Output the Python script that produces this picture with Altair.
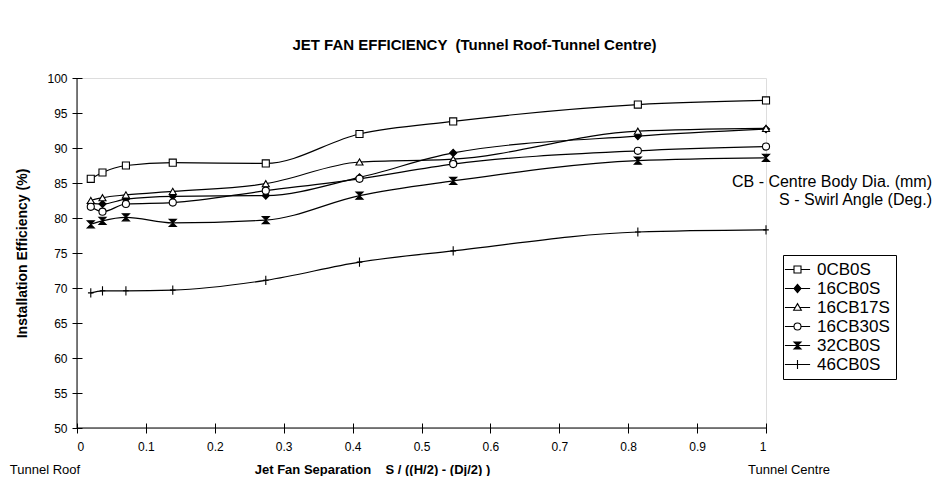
import altair as alt
import pandas as pd

# ---------------- data ----------------
x_vals = [0.02, 0.037, 0.071, 0.139, 0.274, 0.41, 0.546, 0.814, 1.0]
series_names = ["0CB0S", "16CB0S", "16CB17S", "16CB30S", "32CB0S", "46CB0S"]
v_0CB0S = [85.6, 86.5, 87.5, 87.9, 87.8, 92.0, 93.8, 96.2, 96.8]
v_16CB0S = [82.1, 82.0, 82.7, 83.1, 83.2, 85.8, 89.3, 91.7, 92.7]
v_16CB17S = [82.5, 82.9, 83.3, 83.8, 84.9, 88.0, 88.4, 92.4, 92.8]
v_16CB30S = [81.6, 80.9, 82.0, 82.2, 83.9, 85.6, 87.7, 89.6, 90.2]
v_32CB0S = [79.1, 79.6, 80.1, 79.3, 79.7, 83.2, 85.3, 88.2, 88.6]
v_46CB0S = [69.3, 69.6, 69.6, 69.7, 71.1, 73.7, 75.3, 78.0, 78.3]

y_ticks = [50, 55, 60, 65, 70, 75, 80, 85, 90, 95, 100]
x_ticks = [0, 0.1, 0.2, 0.3, 0.4, 0.5, 0.6, 0.7, 0.8, 0.9, 1.0]

title_text = "JET FAN EFFICIENCY \u00a0(Tunnel Roof-Tunnel Centre)"
x_title = "Jet Fan Separation\u00a0\u00a0\u00a0\u00a0S / ((H/2) - (Dj/2) )"
y_title = "Installation Efficiency (%)"
note_lines = ["CB - Centre Body Dia. (mm)", "S - Swirl Angle (Deg.)"]
end_labels = ["Tunnel Roof", "Tunnel Centre"]

all_vals = [v_0CB0S, v_16CB0S, v_16CB17S, v_16CB30S, v_32CB0S, v_46CB0S]
rows = []
for name, vals in zip(series_names, all_vals):
    for xv, yv in zip(x_vals, vals):
        rows.append({"series": name, "x": xv, "y": yv})
df = pd.DataFrame(rows)

# ---------------- styling ----------------
FONT = "Liberation Sans"
W, H = 689, 350

plot_shapes = [
    "square",
    "diamond",
    "triangle-up",
    "circle",
    "M-1,-1L1,-1L-1,1L1,1Z",
    "M0,-1.3L0,1.3M-0.8,0L0.8,0",
]
legend_shapes = [
    "M-1.8,0L-0.5,0M0.5,0L1.8,0M-0.5,-0.5L0.5,-0.5L0.5,0.5L-0.5,0.5Z",
    "M-1.8,0L1.8,0M0,-0.6L0.5,0L0,0.6L-0.5,0Z",
    "M-1.8,0L-0.35,0M0.35,0L1.8,0M0,-0.55L0.55,0.4L-0.55,0.4Z",
    "M-1.8,0L-0.5,0M0.5,0L1.8,0M0.5,0A0.5,0.5 0 1,1 -0.5,0A0.5,0.5 0 1,1 0.5,0Z",
    "M-1.8,0L1.8,0M-0.5,-0.5L0.5,-0.5L-0.5,0.5L0.5,0.5Z",
    "M-1.8,0L1.8,0M0,-0.65L0,0.65",
]
fills = ["white", "black", "white", "white", "black", "black"]
strokes = ["black"] * 6

x_enc = alt.X(
    "x:Q",
    scale=alt.Scale(domain=[0, 1], nice=False, zero=False),
    axis=alt.Axis(
        values=x_ticks, format=".1~f", offset=-5, tickSize=10, domain=False,
        grid=False, labelPadding=8, labelFontSize=12, labelFont=FONT,
        labelColor="black", tickColor="black", labelOverlap=False,
        title=x_title, titleFont=FONT, titleFontSize=13, titleFontWeight="bold",
        titleColor="black", titleX=295, titleY=50, titleBaseline="alphabetic",
        titleAlign="center",
    ),
)
y_enc = alt.Y(
    "y:Q",
    scale=alt.Scale(domain=[50, 100], nice=False, zero=False),
    axis=alt.Axis(
        values=y_ticks, format="d", offset=-5, tickSize=10, domain=False,
        grid=False, labelPadding=5, labelFontSize=12, labelFont=FONT,
        labelColor="black", tickColor="black", labelOverlap=False,
        title=y_title, titleFont=FONT, titleFontSize=14, titleFontWeight="bold",
        titleColor="black", titleX=-60, titleY=H / 2, titleAngle=270,
        titleBaseline="middle", titleAlign="center",
    ),
)

lines = alt.Chart(df).mark_line(
    color="black", strokeWidth=1.2, interpolate="monotone"
).encode(x=x_enc, y=y_enc, detail="series:N")

points = alt.Chart(df).mark_point(
    strokeWidth=1.1, opacity=1, fillOpacity=1, size=50
).encode(
    x=x_enc,
    y=y_enc,
    shape=alt.Shape("series:N", scale=alt.Scale(domain=series_names, range=plot_shapes), legend=None),
    fill=alt.Fill("series:N", scale=alt.Scale(domain=series_names, range=fills), legend=None),
    stroke=alt.Stroke("series:N", scale=alt.Scale(domain=series_names, range=strokes), legend=None),
)

leg = alt.Legend(
    title=None, orient="none", legendX=706, legendY=177,
    padding=6, strokeColor="black", fillColor="white",
    labelFont=FONT, labelFontSize=17, labelColor="black",
    labelExpr="datum.label + '\u00a0\u00a0'",
    symbolSize=196, symbolStrokeWidth=1.1, symbolOpacity=1,
    rowPadding=1, labelOffset=11,
)

legend_layer = alt.Chart(df).transform_filter("datum.y > 1000").mark_point(
    strokeWidth=1.1, opacity=1, fillOpacity=1
).encode(
    x=x_enc,
    y=y_enc,
    shape=alt.Shape("series:N", scale=alt.Scale(domain=series_names, range=legend_shapes), legend=leg),
    fill=alt.Fill("series:N", scale=alt.Scale(domain=series_names, range=fills), legend=leg),
    stroke=alt.Stroke("series:N", scale=alt.Scale(domain=series_names, range=strokes), legend=leg),
)

axis_lines = alt.Chart(pd.DataFrame({"k": [0]})).mark_rule(color="black", strokeWidth=1).encode(
    x=alt.value(0), y=alt.value(0), y2=alt.value(H)
)
axis_lines2 = alt.Chart(pd.DataFrame({"k": [0]})).mark_rule(color="black", strokeWidth=1).encode(
    x=alt.value(0), x2=alt.value(W), y=alt.value(H)
)

notes_df = pd.DataFrame({"t": note_lines, "py": [104, 122]})
notes = alt.Chart(notes_df).mark_text(
    align="right", baseline="middle", font=FONT, fontSize=16, color="black"
).encode(x=alt.value(855), y=alt.Y("py:Q", scale=None), text="t:N")

ends_df = pd.DataFrame({"t": end_labels, "px": [-32, 712]})
ends = alt.Chart(ends_df).mark_text(
    align="center", baseline="alphabetic", font=FONT, fontSize=13, color="black"
).encode(x=alt.X("px:Q", scale=None), y=alt.value(396), text="t:N")

chart = alt.layer(
    axis_lines, axis_lines2, lines, points, legend_layer, notes, ends
).resolve_scale(
    shape="independent", fill="independent", stroke="independent"
).properties(
    width=W, height=H,
    padding={"left": 69, "top": 70, "right": 171, "bottom": 48},
    autosize=alt.AutoSizeParams(type="none"),
    title=alt.TitleParams(
        title_text, anchor="middle", font=FONT, fontSize=15, fontWeight="bold",
        color="black", dx=53, offset=19,
    ),
).configure_view(stroke=None).configure(background="white")

chart.save("out.html", embed_options={"renderer": "svg", "actions": False})
